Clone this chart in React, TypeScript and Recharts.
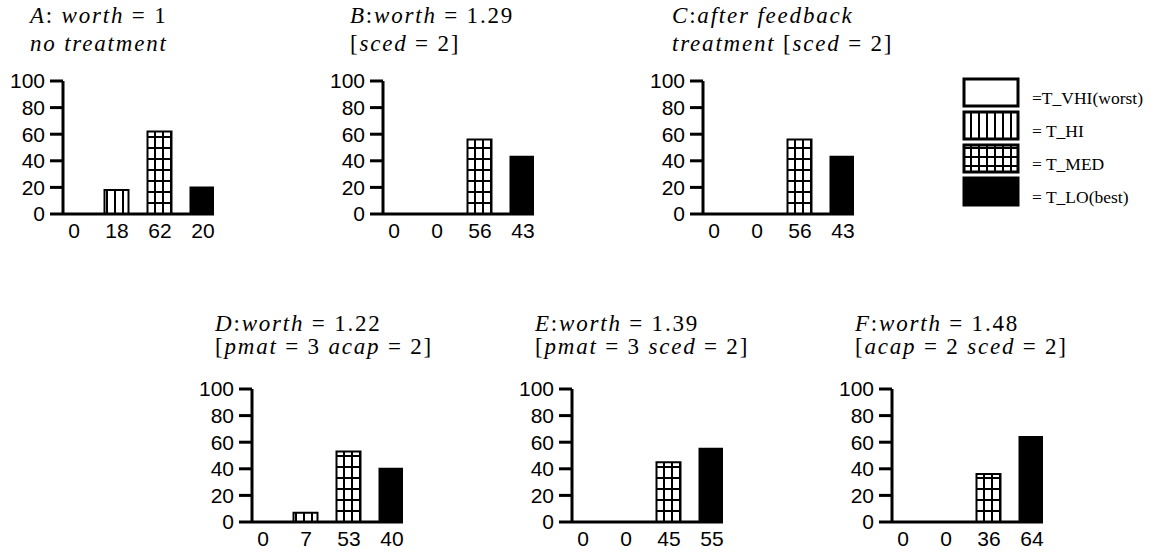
import React from 'react';
import { BarChart, Bar, XAxis, YAxis, Cell } from 'recharts';

// categories, worst (VHI) to best (LO)
const categories = ['T_VHI', 'T_HI', 'T_MED', 'T_LO'];
const legendLabels = ['=T_VHI(worst)', '= T_HI', '= T_MED', '= T_LO(best)'];
const yTicks = [0, 20, 40, 60, 80, 100];

const valuesA = [0, 18, 62, 20];
const valuesB = [0, 0, 56, 43];
const valuesC = [0, 0, 56, 43];
const valuesD = [0, 7, 53, 40];
const valuesE = [0, 0, 45, 55];
const valuesF = [0, 0, 36, 64];

const titlesA = ['A: worth = 1', 'no treatment'];
const titlesB = ['B:worth = 1.29', '[sced = 2]'];
const titlesC = ['C:after feedback', 'treatment [sced = 2]'];
const titlesD = ['D:worth = 1.22', '[pmat = 3 acap = 2]'];
const titlesE = ['E:worth = 1.39', '[pmat = 3 sced = 2]'];
const titlesF = ['F:worth = 1.48', '[acap = 2 sced = 2]'];

const fills = ['#fff', 'url(#pat-hi)', 'url(#pat-med)', '#000'];
const legendFills = ['#fff', 'url(#leg-hi)', 'url(#leg-med)', '#000'];

const panels = [
  { values: valuesA, titles: titlesA, x: 63, y: 81, tx: 30, ty: [23, 51] },
  { values: valuesB, titles: titlesB, x: 383, y: 81, tx: 350, ty: [23, 51] },
  { values: valuesC, titles: titlesC, x: 703, y: 81, tx: 672, ty: [23, 51] },
  { values: valuesD, titles: titlesD, x: 252, y: 389, tx: 215, ty: [331, 354] },
  { values: valuesE, titles: titlesE, x: 572, y: 389, tx: 535, ty: [331, 354] },
  { values: valuesF, titles: titlesF, x: 892, y: 389, tx: 855, ty: [331, 354] },
];

const axisStyle = { stroke: '#000', strokeWidth: 3 };
const tickFont = { fill: '#000', fontSize: 21, fontFamily: 'Liberation Sans, Arial, sans-serif' };
const serif = 'Liberation Serif, Times New Roman, serif';

// letters in italic (math), everything else upright
const MathLine = ({ text, x, y }: { text: string; x: number; y: number }) => {
  const parts = text.match(/([A-Za-z]+|[^A-Za-z]+)/g) || [];
  return (
    <text x={x} y={y} fontSize={23} fontFamily={serif} fill="#000" style={{ whiteSpace: 'pre' }} letterSpacing={1.8}>
      {parts.map((p, i) => (
        <tspan key={i} fontStyle={/[A-Za-z]/.test(p) ? 'italic' : 'normal'}>
          {p}
        </tspan>
      ))}
    </text>
  );
};

const Panel = ({ values, x, y }: { values: number[]; x: number; y: number }) => {
  const data = categories.map((c, i) => ({ idx: i, cat: c, value: values[i] }));
  return (
    <div style={{ position: 'absolute', left: x - 63, top: y - 81 }}>
      <BarChart width={226} height={254} data={data} margin={{ top: 81, right: 12, left: 8, bottom: 0 }}>
        <XAxis
          type="number"
          dataKey="idx"
          domain={[-0.256, 3.256]}
          ticks={[0, 1, 2, 3]}
          allowDataOverflow
          interval={0}
          height={40}
          tickLine={false}
          axisLine={axisStyle}
          tick={tickFont}
          tickSize={6}
          tickMargin={3}
          tickFormatter={(v: number) => String(values[Math.round(v)])}
        />
        <YAxis
          type="number"
          domain={[0, 100]}
          ticks={yTicks}
          interval={0}
          width={55}
          axisLine={axisStyle}
          tickLine={axisStyle}
          tick={tickFont}
          tickSize={13}
          tickMargin={5}
        />
        <Bar dataKey="value" barSize={24} stroke="#000" strokeWidth={2} isAnimationActive={false}>
          {data.map((d, i) => (
            <Cell key={d.cat} fill={fills[i]} />
          ))}
        </Bar>
      </BarChart>
    </div>
  );
};

export default function App() {
  return (
    <div style={{ position: 'fixed', left: 0, top: 0, width: 1155, height: 553, background: '#fff', overflow: 'hidden' }}>
      {panels.map((p, i) => (
        <Panel key={i} values={p.values} x={p.x} y={p.y} />
      ))}
      <svg width={1155} height={553} style={{ position: 'absolute', left: 0, top: 0, pointerEvents: 'none' }}>
        <defs>
          <pattern id="pat-hi" patternUnits="userSpaceOnUse" width={8} height={8}>
            <rect width={8} height={8} fill="#fff" />
            <line x1={3} y1={0} x2={3} y2={8} stroke="#000" strokeWidth={2} />
          </pattern>
          <pattern id="pat-med" patternUnits="userSpaceOnUse" width={8} height={11}>
            <rect width={8} height={11} fill="#fff" />
            <line x1={3} y1={0} x2={3} y2={11} stroke="#000" strokeWidth={2} />
            <line x1={0} y1={5} x2={8} y2={5} stroke="#000" strokeWidth={2} />
          </pattern>
          <pattern id="leg-hi" patternUnits="userSpaceOnUse" width={8} height={8}>
            <rect width={8} height={8} fill="#fff" />
            <line x1={3} y1={0} x2={3} y2={8} stroke="#000" strokeWidth={2} />
          </pattern>
          <pattern id="leg-med" patternUnits="userSpaceOnUse" width={8} height={9}>
            <rect width={8} height={9} fill="#fff" />
            <line x1={3} y1={0} x2={3} y2={9} stroke="#000" strokeWidth={2} />
            <line x1={0} y1={4} x2={8} y2={4} stroke="#000" strokeWidth={2} />
          </pattern>
        </defs>
        {panels.map((p, i) =>
          p.titles.map((t, j) => <MathLine key={`${i}-${j}`} text={t} x={p.tx} y={p.ty[j]} />)
        )}
        {categories.map((c, i) => (
          <g key={c}>
            <rect x={964} y={79 + i * 33} width={54} height={27} fill={legendFills[i]} stroke="#000" strokeWidth={3} />
            <text x={1032} y={104 + i * 33} fontSize={17.5} fontFamily={serif} fill="#000">
              {legendLabels[i]}
            </text>
          </g>
        ))}
      </svg>
    </div>
  );
}
